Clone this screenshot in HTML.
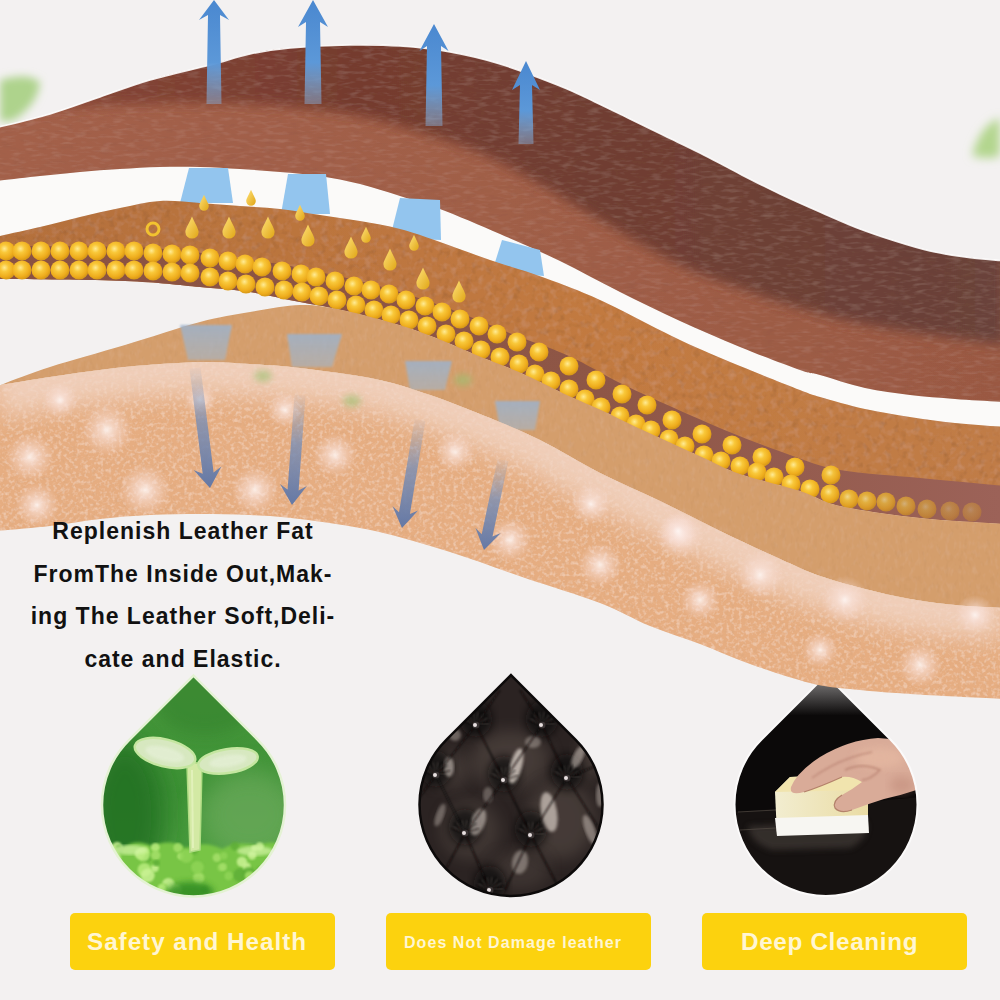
<!DOCTYPE html>
<html><head><meta charset="utf-8"><style>
html,body{margin:0;padding:0;width:1000px;height:1000px;overflow:hidden;background:#f3f1f1}
#root{position:relative;width:1000px;height:1000px}
.txt{position:absolute;left:0;width:366px;text-align:center;font-family:"Liberation Sans",sans-serif;font-weight:bold;font-size:23px;letter-spacing:1px;color:#111;line-height:42.5px;top:510px}
.drop{position:absolute;width:182px;height:182px;transform:rotate(45deg);border-radius:0 50% 50% 50%;overflow:hidden}
.btn{position:absolute;top:913px;height:57px;background:#fcd20e;border-radius:5px}
.bt{position:absolute;font-family:"Liberation Sans",sans-serif;font-weight:bold;color:#fff6d2;white-space:nowrap;line-height:1}
</style></head><body><div id="root">
<svg width="1000" height="1000" viewBox="0 0 1000 1000" style="position:absolute;left:0;top:0">
<defs>
<radialGradient id="bead" cx="0.42" cy="0.38" r="0.6">
  <stop offset="0" stop-color="#ffeb94"/><stop offset="0.35" stop-color="#f9c83a"/><stop offset="0.8" stop-color="#eeac1c"/><stop offset="1" stop-color="#d99a18"/>
</radialGradient>
<linearGradient id="gdrop" x1="0" y1="0" x2="1" y2="1">
  <stop offset="0" stop-color="#ffe27a"/><stop offset="1" stop-color="#e0a514"/>
</linearGradient>
<linearGradient id="upg" x1="0" y1="0" x2="0" y2="1">
  <stop offset="0" stop-color="#4a88d0"/><stop offset="0.6" stop-color="#5c98d8"/><stop offset="1" stop-color="#8ab4e0" stop-opacity="0.45"/>
</linearGradient>
<linearGradient id="dng" x1="0" y1="0" x2="0" y2="1">
  <stop offset="0" stop-color="#8aa0c0" stop-opacity="0.05"/><stop offset="0.45" stop-color="#7a8eb4" stop-opacity="0.8"/><stop offset="1" stop-color="#6478a5"/>
</linearGradient>
<radialGradient id="spark">
  <stop offset="0" stop-color="#fff8f6" stop-opacity="0.95"/><stop offset="0.3" stop-color="#fbe6e0" stop-opacity="0.7"/><stop offset="1" stop-color="#f8dcd4" stop-opacity="0"/>
</radialGradient>
<linearGradient id="ggrad" x1="0" y1="0" x2="0" y2="1"><stop offset="0" stop-color="#48983c"/><stop offset="0.5" stop-color="#3e9236"/><stop offset="1" stop-color="#52a444"/></linearGradient>
<linearGradient id="sgtop" x1="0" y1="0" x2="0" y2="1"><stop offset="0" stop-color="#9a9898"/><stop offset="1" stop-color="#0d0b0b"/></linearGradient>
<linearGradient id="darkg" x1="0" y1="0" x2="1000" y2="0" gradientUnits="userSpaceOnUse"><stop offset="0" stop-color="#8a4838"/><stop offset="0.35" stop-color="#753b2e"/><stop offset="0.65" stop-color="#6f3e33"/><stop offset="1" stop-color="#6a423a"/></linearGradient>
<linearGradient id="lightg" x1="0" y1="0" x2="1000" y2="0" gradientUnits="userSpaceOnUse"><stop offset="0" stop-color="#a36049"/><stop offset="0.5" stop-color="#a05e47"/><stop offset="1" stop-color="#9a5943"/></linearGradient>
<filter id="blur6" x="-20%" y="-20%" width="140%" height="140%"><feGaussianBlur stdDeviation="6"/></filter>
<filter id="blur12" x="-50%" y="-50%" width="200%" height="200%"><feGaussianBlur stdDeviation="12"/></filter>
<filter id="blur1"><feGaussianBlur stdDeviation="0.8"/></filter>
<filter id="tex" x="0" y="0" width="1000" height="1000" filterUnits="userSpaceOnUse">
  <feTurbulence type="fractalNoise" baseFrequency="0.18" numOctaves="2" seed="7" result="n"/>
  <feColorMatrix in="n" type="matrix" values="0 0 0 0 1  0 0 0 0 0.92  0 0 0 0 0.85  2.6 0 0 0 -1.25" result="sp"/>
  <feComposite in="sp" in2="SourceAlpha" operator="in" result="sp2"/>
  <feComponentTransfer in="sp2" result="sp3"><feFuncA type="linear" slope="0.22"/></feComponentTransfer>
  <feColorMatrix in="n" type="matrix" values="0 0 0 0 0  0 0 0 0 0  0 0 0 0 0  0 -2.6 0 0 1.25" result="dk"/>
  <feComposite in="dk" in2="SourceAlpha" operator="in" result="dk2"/>
  <feComponentTransfer in="dk2" result="dk3"><feFuncA type="linear" slope="0.12"/></feComponentTransfer>
  <feMerge><feMergeNode in="SourceGraphic"/><feMergeNode in="sp3"/><feMergeNode in="dk3"/></feMerge>
</filter>
<filter id="texd" x="0" y="0" width="1000" height="1000" filterUnits="userSpaceOnUse">
  <feTurbulence type="fractalNoise" baseFrequency="0.22 0.12" numOctaves="2" seed="7" result="n"/>
  <feColorMatrix in="n" type="matrix" values="0 0 0 0 1  0 0 0 0 0.92  0 0 0 0 0.85  2.6 0 0 0 -1.25" result="sp"/>
  <feComposite in="sp" in2="SourceAlpha" operator="in" result="sp2"/>
  <feComponentTransfer in="sp2" result="sp3"><feFuncA type="linear" slope="0.06"/></feComponentTransfer>
  <feColorMatrix in="n" type="matrix" values="0 0 0 0 0  0 0 0 0 0  0 0 0 0 0  0 -2.6 0 0 1.25" result="dk"/>
  <feComposite in="dk" in2="SourceAlpha" operator="in" result="dk2"/>
  <feComponentTransfer in="dk2" result="dk3"><feFuncA type="linear" slope="0.06"/></feComponentTransfer>
  <feMerge><feMergeNode in="SourceGraphic"/><feMergeNode in="sp3"/><feMergeNode in="dk3"/></feMerge>
</filter>
<filter id="texl" x="0" y="0" width="1000" height="1000" filterUnits="userSpaceOnUse">
  <feTurbulence type="fractalNoise" baseFrequency="0.08 0.28" numOctaves="2" seed="7" result="n"/>
  <feColorMatrix in="n" type="matrix" values="0 0 0 0 0.85  0 0 0 0 0.6  0 0 0 0 0.5  2.6 0 0 0 -1.25" result="sp"/>
  <feComposite in="sp" in2="SourceAlpha" operator="in" result="sp2"/>
  <feComponentTransfer in="sp2" result="sp3"><feFuncA type="linear" slope="0.10"/></feComponentTransfer>
  <feColorMatrix in="n" type="matrix" values="0 0 0 0 0.2  0 0 0 0 0.08  0 0 0 0 0.05  0 -2.6 0 0 1.25" result="dk"/>
  <feComposite in="dk" in2="SourceAlpha" operator="in" result="dk2"/>
  <feComponentTransfer in="dk2" result="dk3"><feFuncA type="linear" slope="0.16"/></feComponentTransfer>
  <feMerge><feMergeNode in="SourceGraphic"/><feMergeNode in="sp3"/><feMergeNode in="dk3"/></feMerge>
</filter>
<filter id="textan" x="0" y="0" width="1000" height="1000" filterUnits="userSpaceOnUse">
  <feTurbulence type="fractalNoise" baseFrequency="0.14" numOctaves="2" seed="7" result="n"/>
  <feColorMatrix in="n" type="matrix" values="0 0 0 0 1  0 0 0 0 0.92  0 0 0 0 0.85  2.6 0 0 0 -1.25" result="sp"/>
  <feComposite in="sp" in2="SourceAlpha" operator="in" result="sp2"/>
  <feComponentTransfer in="sp2" result="sp3"><feFuncA type="linear" slope="0.08"/></feComponentTransfer>
  <feColorMatrix in="n" type="matrix" values="0 0 0 0 0  0 0 0 0 0  0 0 0 0 0  0 -2.6 0 0 1.25" result="dk"/>
  <feComposite in="dk" in2="SourceAlpha" operator="in" result="dk2"/>
  <feComponentTransfer in="dk2" result="dk3"><feFuncA type="linear" slope="0.2"/></feComponentTransfer>
  <feMerge><feMergeNode in="SourceGraphic"/><feMergeNode in="sp3"/><feMergeNode in="dk3"/></feMerge>
</filter>
<filter id="tex2" x="0" y="0" width="1000" height="1000" filterUnits="userSpaceOnUse">
  <feTurbulence type="fractalNoise" baseFrequency="0.26" numOctaves="2" seed="11" result="n"/>
  <feColorMatrix in="n" type="matrix" values="0 0 0 0 1  0 0 0 0 0.88  0 0 0 0 0.78  3.2 0 0 0 -1.5" result="sp"/>
  <feComposite in="sp" in2="SourceAlpha" operator="in" result="sp2"/>
  <feComponentTransfer in="sp2" result="sp3"><feFuncA type="linear" slope="0.32"/></feComponentTransfer>
  <feColorMatrix in="n" type="matrix" values="0 0 0 0 0.6  0 0 0 0 0.35  0 0 0 0 0.2  0 3 0 0 -1.5" result="dk"/>
  <feComposite in="dk" in2="SourceAlpha" operator="in" result="dk2"/>
  <feComponentTransfer in="dk2" result="dk3"><feFuncA type="linear" slope="0.25"/></feComponentTransfer>
  <feMerge><feMergeNode in="SourceGraphic"/><feMergeNode in="sp3"/><feMergeNode in="dk3"/></feMerge>
</filter>
<filter id="blur3" x="-50%" y="-50%" width="200%" height="200%"><feGaussianBlur stdDeviation="3"/></filter>
<filter id="blur5" x="-50%" y="-50%" width="200%" height="200%"><feGaussianBlur stdDeviation="5"/></filter>
<linearGradient id="tang" x1="0" y1="0" x2="1000" y2="0" gradientUnits="userSpaceOnUse"><stop offset="0" stop-color="#b4703b"/><stop offset="0.6" stop-color="#c27a41"/><stop offset="1" stop-color="#c07c46"/></linearGradient>
<linearGradient id="trapg" x1="0" y1="0" x2="0" y2="1"><stop offset="0" stop-color="#9cb2cc" stop-opacity="0.85"/><stop offset="1" stop-color="#a4b6c8" stop-opacity="0.6"/></linearGradient>
<linearGradient id="spg" x1="0" y1="0" x2="1" y2="0"><stop offset="0" stop-color="#f2edd0"/><stop offset="1" stop-color="#eadca4"/></linearGradient>
<linearGradient id="stripg" x1="0" y1="0" x2="1000" y2="0" gradientUnits="userSpaceOnUse"><stop offset="0" stop-color="#8a5242"/><stop offset="0.6" stop-color="#8e5646"/><stop offset="1" stop-color="#9c6258"/></linearGradient>
<filter id="blur8" x="-20%" y="-20%" width="140%" height="140%"><feGaussianBlur stdDeviation="8"/></filter>
<filter id="blur4" x="-20%" y="-20%" width="140%" height="140%"><feGaussianBlur stdDeviation="4"/></filter>
<filter id="blur2"><feGaussianBlur stdDeviation="1.5"/></filter>
<clipPath id="darkclip"><path d="M-5,128 C4.2,125.7 32.5,119.2 50.0,114.0 C67.5,108.8 83.3,102.7 100.0,97.0 C116.7,91.3 131.7,85.3 150.0,80.0 C168.3,74.7 193.3,69.3 210.0,65.0 C226.7,60.7 236.7,56.8 250.0,54.0 C263.3,51.2 273.3,49.5 290.0,48.0 C306.7,46.5 331.7,45.3 350.0,45.0 C368.3,44.7 383.3,44.8 400.0,46.0 C416.7,47.2 433.3,49.0 450.0,52.0 C466.7,55.0 481.7,58.3 500.0,64.0 C518.3,69.7 544.2,79.7 560.0,86.0 C575.8,92.3 583.3,96.5 595.0,102.0 C606.7,107.5 618.3,113.3 630.0,119.0 C641.7,124.7 653.3,130.3 665.0,136.0 C676.7,141.7 687.5,146.7 700.0,153.0 C712.5,159.3 726.7,167.2 740.0,174.0 C753.3,180.8 766.7,187.7 780.0,194.0 C793.3,200.3 806.7,206.2 820.0,212.0 C833.3,217.8 847.5,224.2 860.0,229.0 C872.5,233.8 883.3,237.3 895.0,241.0 C906.7,244.7 918.3,248.3 930.0,251.0 C941.7,253.7 952.5,255.3 965.0,257.0 C977.5,258.7 998.3,260.3 1005.0,261.0 L1005,402 C996.7,401.5 970.8,400.2 955.0,399.0 C939.2,397.8 925.0,396.8 910.0,395.0 C895.0,393.2 880.0,391.3 865.0,388.0 C850.0,384.7 830.8,378.0 820.0,375.0 C809.2,372.0 813.3,374.7 800.0,370.0 C786.7,365.3 760.0,355.2 740.0,347.0 C720.0,338.8 700.0,330.2 680.0,321.0 C660.0,311.8 640.0,302.0 620.0,292.0 C600.0,282.0 580.0,270.7 560.0,261.0 C540.0,251.3 520.0,242.7 500.0,234.0 C480.0,225.3 456.7,215.3 440.0,209.0 C423.3,202.7 413.3,200.2 400.0,196.0 C386.7,191.8 373.3,187.3 360.0,184.0 C346.7,180.7 333.3,178.0 320.0,176.0 C306.7,174.0 293.3,173.2 280.0,172.0 C266.7,170.8 253.3,169.8 240.0,169.0 C226.7,168.2 213.3,167.3 200.0,167.0 C186.7,166.7 173.3,166.7 160.0,167.0 C146.7,167.3 133.3,168.2 120.0,169.0 C106.7,169.8 93.3,170.8 80.0,172.0 C66.7,173.2 54.2,174.5 40.0,176.0 C25.8,177.5 2.5,180.2 -5.0,181.0 Z"/></clipPath>
</defs>
<rect width="1000" height="1000" fill="#f3f1f1"/>
<path d="M0,80 Q28,72 40,82 Q38,104 14,120 Q4,122 0,121 Z" fill="#aed38c" filter="url(#blur4)"/><path d="M1000,118 Q980,125 972,156 Q990,160 1000,156 Z" fill="#b3d68e" filter="url(#blur5)"/><clipPath id="cg"><path d="M193.5,675.6 L258.2,740.3 A91.5,91.5 0 1 1 128.8,740.3 Z"/></clipPath>
<g clip-path="url(#cg)">
<rect x="90" y="670" width="210" height="240" fill="url(#ggrad)"/>
<ellipse cx="125" cy="815" rx="40" ry="75" fill="#226f20" filter="url(#blur12)" opacity="0.85"/>
<ellipse cx="250" cy="815" rx="50" ry="45" fill="#6caa5c" filter="url(#blur12)" opacity="0.75"/>
<ellipse cx="205" cy="700" rx="50" ry="35" fill="#327f2c" filter="url(#blur8)" opacity="0.5"/>
<path d="M100,850 Q110,842 122,848 Q136,838 152,846 Q170,838 186,848 Q205,840 222,849 Q240,840 258,846 Q272,838 290,848 L290,910 L95,910 Z" fill="#78c545" filter="url(#blur2)"/>
<circle cx="144.8" cy="851.1" r="4.6" fill="#a6e06a" opacity="0.85" filter="url(#blur1)"/>
<circle cx="117.1" cy="847.0" r="5.2" fill="#caf294" opacity="0.85" filter="url(#blur1)"/>
<circle cx="252.1" cy="883.5" r="3.9" fill="#5fae38" opacity="0.85" filter="url(#blur1)"/>
<circle cx="168.4" cy="884.2" r="6.3" fill="#caf294" opacity="0.85" filter="url(#blur1)"/>
<circle cx="140.7" cy="891.4" r="6.3" fill="#caf294" opacity="0.85" filter="url(#blur1)"/>
<circle cx="252.1" cy="855.5" r="4.2" fill="#caf294" opacity="0.85" filter="url(#blur1)"/>
<circle cx="116.5" cy="875.7" r="5.7" fill="#5fae38" opacity="0.85" filter="url(#blur1)"/>
<circle cx="147.3" cy="858.1" r="4.1" fill="#5fae38" opacity="0.85" filter="url(#blur1)"/>
<circle cx="259.7" cy="846.4" r="4.2" fill="#caf294" opacity="0.85" filter="url(#blur1)"/>
<circle cx="261.1" cy="870.9" r="4.7" fill="#5fae38" opacity="0.85" filter="url(#blur1)"/>
<circle cx="154.8" cy="868.1" r="3.9" fill="#caf294" opacity="0.85" filter="url(#blur1)"/>
<circle cx="254.4" cy="848.1" r="3.2" fill="#caf294" opacity="0.85" filter="url(#blur1)"/>
<circle cx="198.6" cy="877.8" r="5.8" fill="#a6e06a" opacity="0.85" filter="url(#blur1)"/>
<circle cx="289.5" cy="855.6" r="4.7" fill="#a6e06a" opacity="0.85" filter="url(#blur1)"/>
<circle cx="220.7" cy="867.6" r="3.7" fill="#8fd457" opacity="0.85" filter="url(#blur1)"/>
<circle cx="241.9" cy="861.7" r="5.2" fill="#caf294" opacity="0.85" filter="url(#blur1)"/>
<circle cx="119.2" cy="849.0" r="3.9" fill="#5fae38" opacity="0.85" filter="url(#blur1)"/>
<circle cx="216.9" cy="857.6" r="4.3" fill="#a6e06a" opacity="0.85" filter="url(#blur1)"/>
<circle cx="155.3" cy="847.3" r="4.4" fill="#b9ec7e" opacity="0.85" filter="url(#blur1)"/>
<circle cx="270.2" cy="892.8" r="5.9" fill="#caf294" opacity="0.85" filter="url(#blur1)"/>
<circle cx="103.5" cy="860.2" r="6.9" fill="#8fd457" opacity="0.85" filter="url(#blur1)"/>
<circle cx="263.7" cy="888.6" r="5.7" fill="#b9ec7e" opacity="0.85" filter="url(#blur1)"/>
<circle cx="155.7" cy="855.4" r="4.8" fill="#a6e06a" opacity="0.85" filter="url(#blur1)"/>
<circle cx="147.5" cy="875.3" r="3.6" fill="#5fae38" opacity="0.85" filter="url(#blur1)"/>
<circle cx="101.8" cy="848.2" r="3.7" fill="#caf294" opacity="0.85" filter="url(#blur1)"/>
<circle cx="289.5" cy="874.0" r="4.8" fill="#a6e06a" opacity="0.85" filter="url(#blur1)"/>
<circle cx="180.6" cy="856.2" r="3.2" fill="#b9ec7e" opacity="0.85" filter="url(#blur1)"/>
<circle cx="240.1" cy="875.2" r="6.9" fill="#5fae38" opacity="0.85" filter="url(#blur1)"/>
<circle cx="107.8" cy="870.0" r="4.0" fill="#b9ec7e" opacity="0.85" filter="url(#blur1)"/>
<circle cx="123.2" cy="871.9" r="6.1" fill="#8fd457" opacity="0.85" filter="url(#blur1)"/>
<circle cx="223.8" cy="855.8" r="3.8" fill="#8fd457" opacity="0.85" filter="url(#blur1)"/>
<circle cx="178.0" cy="847.8" r="4.7" fill="#a6e06a" opacity="0.85" filter="url(#blur1)"/>
<circle cx="223.0" cy="867.0" r="3.9" fill="#a6e06a" opacity="0.85" filter="url(#blur1)"/>
<circle cx="106.0" cy="858.5" r="4.0" fill="#a6e06a" opacity="0.85" filter="url(#blur1)"/>
<circle cx="246.7" cy="866.4" r="4.0" fill="#caf294" opacity="0.85" filter="url(#blur1)"/>
<circle cx="109.7" cy="891.5" r="5.3" fill="#5fae38" opacity="0.85" filter="url(#blur1)"/>
<circle cx="176.6" cy="890.1" r="5.6" fill="#b9ec7e" opacity="0.85" filter="url(#blur1)"/>
<circle cx="193.9" cy="850.6" r="3.8" fill="#5fae38" opacity="0.85" filter="url(#blur1)"/>
<circle cx="271.0" cy="891.3" r="4.3" fill="#8fd457" opacity="0.85" filter="url(#blur1)"/>
<circle cx="251.9" cy="877.5" r="6.3" fill="#5fae38" opacity="0.85" filter="url(#blur1)"/>
<circle cx="140.9" cy="885.3" r="6.2" fill="#caf294" opacity="0.85" filter="url(#blur1)"/>
<circle cx="275.3" cy="892.9" r="3.3" fill="#caf294" opacity="0.85" filter="url(#blur1)"/>
<circle cx="282.7" cy="878.7" r="3.2" fill="#5fae38" opacity="0.85" filter="url(#blur1)"/>
<circle cx="124.3" cy="893.5" r="5.7" fill="#b9ec7e" opacity="0.85" filter="url(#blur1)"/>
<circle cx="265.3" cy="879.7" r="4.9" fill="#8fd457" opacity="0.85" filter="url(#blur1)"/>
<circle cx="241.8" cy="891.4" r="3.9" fill="#b9ec7e" opacity="0.85" filter="url(#blur1)"/>
<circle cx="140.1" cy="853.7" r="5.4" fill="#caf294" opacity="0.85" filter="url(#blur1)"/>
<circle cx="122.0" cy="885.7" r="6.1" fill="#a6e06a" opacity="0.85" filter="url(#blur1)"/>
<circle cx="204.6" cy="889.1" r="3.8" fill="#5fae38" opacity="0.85" filter="url(#blur1)"/>
<circle cx="162.8" cy="889.7" r="6.1" fill="#8fd457" opacity="0.85" filter="url(#blur1)"/>
<circle cx="273.9" cy="867.5" r="3.3" fill="#5fae38" opacity="0.85" filter="url(#blur1)"/>
<circle cx="121.5" cy="873.5" r="4.0" fill="#a6e06a" opacity="0.85" filter="url(#blur1)"/>
<circle cx="107.9" cy="849.9" r="6.5" fill="#b9ec7e" opacity="0.85" filter="url(#blur1)"/>
<circle cx="156.4" cy="863.0" r="3.3" fill="#5fae38" opacity="0.85" filter="url(#blur1)"/>
<circle cx="186.2" cy="856.1" r="6.9" fill="#8fd457" opacity="0.85" filter="url(#blur1)"/>
<circle cx="144.4" cy="869.8" r="6.9" fill="#b9ec7e" opacity="0.85" filter="url(#blur1)"/>
<circle cx="114.7" cy="890.9" r="6.2" fill="#caf294" opacity="0.85" filter="url(#blur1)"/>
<circle cx="197.4" cy="867.3" r="6.4" fill="#8fd457" opacity="0.85" filter="url(#blur1)"/>
<circle cx="112.7" cy="889.2" r="3.8" fill="#caf294" opacity="0.85" filter="url(#blur1)"/>
<circle cx="276.7" cy="869.5" r="3.5" fill="#5fae38" opacity="0.85" filter="url(#blur1)"/>
<circle cx="131.8" cy="888.8" r="3.7" fill="#a6e06a" opacity="0.85" filter="url(#blur1)"/>
<circle cx="162.0" cy="888.1" r="4.0" fill="#b9ec7e" opacity="0.85" filter="url(#blur1)"/>
<circle cx="235.0" cy="846.3" r="4.2" fill="#5fae38" opacity="0.85" filter="url(#blur1)"/>
<circle cx="121.1" cy="884.5" r="5.4" fill="#5fae38" opacity="0.85" filter="url(#blur1)"/>
<circle cx="114.4" cy="858.0" r="6.4" fill="#caf294" opacity="0.85" filter="url(#blur1)"/>
<circle cx="143.5" cy="854.8" r="6.5" fill="#b9ec7e" opacity="0.85" filter="url(#blur1)"/>
<circle cx="228.6" cy="875.9" r="4.3" fill="#8fd457" opacity="0.85" filter="url(#blur1)"/>
<circle cx="248.7" cy="873.8" r="6.7" fill="#5fae38" opacity="0.85" filter="url(#blur1)"/>
<circle cx="249.5" cy="876.0" r="4.8" fill="#a6e06a" opacity="0.85" filter="url(#blur1)"/>
<circle cx="147.8" cy="875.3" r="6.9" fill="#caf294" opacity="0.85" filter="url(#blur1)"/>
<ellipse cx="190" cy="892" rx="24" ry="10" fill="#2e8a22" opacity="0.85" filter="url(#blur3)"/>
<ellipse cx="130" cy="850" rx="18" ry="5" fill="#d4f5a6" opacity="0.7" filter="url(#blur2)"/>
<ellipse cx="255" cy="851" rx="18" ry="5" fill="#d4f5a6" opacity="0.7" filter="url(#blur2)"/>
<path d="M187,766 Q194,759 202,766 L200,850 L190,852 Z" fill="#d3e9a4" stroke="#b0dc84" stroke-width="1.5"/>
<path d="M192,770 L193,848" stroke="#e8f4c4" stroke-width="2" opacity="0.7"/>
<ellipse cx="165" cy="753" rx="31" ry="13.5" transform="rotate(14 165 753)" fill="#d7e8c0" stroke="#c5e6a0" stroke-width="2.5"/>
<ellipse cx="165" cy="754" rx="20" ry="7" transform="rotate(14 165 753)" fill="#e6f0d8" opacity="0.7" filter="url(#blur2)"/>
<ellipse cx="228" cy="761" rx="30" ry="12" transform="rotate(-9 228 761)" fill="#d7e8c0" stroke="#c5e6a0" stroke-width="2.5"/>
<ellipse cx="228" cy="761" rx="19" ry="6" transform="rotate(-9 228 761)" fill="#e6f0d8" opacity="0.7" filter="url(#blur2)"/>
</g>
<path d="M193.5,675.6 L258.2,740.3 A91.5,91.5 0 1 1 128.8,740.3 Z" fill="none" stroke="#e4f2d4" stroke-width="2.5"/>
<clipPath id="cb"><path d="M511,675.1 L575.7,739.8 A91.5,91.5 0 1 1 446.3,739.8 Z"/></clipPath>
<g clip-path="url(#cb)">
<rect x="400" y="670" width="220" height="240" fill="#2b2322"/>
<ellipse cx="510" cy="760" rx="40" ry="30" fill="#74685f" opacity="0.35" filter="url(#blur8)"/>
<ellipse cx="560" cy="820" rx="35" ry="40" fill="#74685f" opacity="0.35" filter="url(#blur8)"/>
<ellipse cx="470" cy="830" rx="30" ry="30" fill="#74685f" opacity="0.3" filter="url(#blur8)"/>
<ellipse cx="450" cy="770" rx="20" ry="20" fill="#74685f" opacity="0.3" filter="url(#blur8)"/>
<ellipse cx="520" cy="870" rx="30" ry="20" fill="#74685f" opacity="0.25" filter="url(#blur8)"/>
<ellipse cx="590" cy="760" rx="15" ry="20" fill="#74685f" opacity="0.3" filter="url(#blur8)"/>
<ellipse cx="476" cy="719" rx="16" ry="18" fill="#0e0b0b" opacity="0.7" filter="url(#blur4)"/>
<ellipse cx="542" cy="719" rx="16" ry="18" fill="#0e0b0b" opacity="0.7" filter="url(#blur4)"/>
<ellipse cx="436" cy="769" rx="16" ry="18" fill="#0e0b0b" opacity="0.7" filter="url(#blur4)"/>
<ellipse cx="504" cy="774" rx="16" ry="18" fill="#0e0b0b" opacity="0.7" filter="url(#blur4)"/>
<ellipse cx="567" cy="772" rx="16" ry="18" fill="#0e0b0b" opacity="0.7" filter="url(#blur4)"/>
<ellipse cx="465" cy="827" rx="16" ry="18" fill="#0e0b0b" opacity="0.7" filter="url(#blur4)"/>
<ellipse cx="531" cy="829" rx="16" ry="18" fill="#0e0b0b" opacity="0.7" filter="url(#blur4)"/>
<ellipse cx="490" cy="884" rx="16" ry="18" fill="#0e0b0b" opacity="0.7" filter="url(#blur4)"/>
<ellipse cx="516" cy="766" rx="6" ry="18" transform="rotate(15 516 766)" fill="#cfc4bc" opacity="0.85" filter="url(#blur2)"/>
<ellipse cx="549" cy="812" rx="8" ry="20" transform="rotate(-10 549 812)" fill="#cfc4bc" opacity="0.75" filter="url(#blur2)"/>
<ellipse cx="478" cy="822" rx="7" ry="14" transform="rotate(20 478 822)" fill="#cfc4bc" opacity="0.6" filter="url(#blur2)"/>
<ellipse cx="449" cy="767" rx="5" ry="10" transform="rotate(0 449 767)" fill="#cfc4bc" opacity="0.6" filter="url(#blur2)"/>
<ellipse cx="578" cy="757" rx="5" ry="12" transform="rotate(25 578 757)" fill="#cfc4bc" opacity="0.55" filter="url(#blur2)"/>
<ellipse cx="533" cy="742" rx="8" ry="6" transform="rotate(0 533 742)" fill="#cfc4bc" opacity="0.4" filter="url(#blur2)"/>
<ellipse cx="590" cy="830" rx="5" ry="16" transform="rotate(-20 590 830)" fill="#cfc4bc" opacity="0.5" filter="url(#blur2)"/>
<ellipse cx="520" cy="862" rx="8" ry="12" transform="rotate(10 520 862)" fill="#cfc4bc" opacity="0.45" filter="url(#blur2)"/>
<ellipse cx="440" cy="815" rx="4" ry="12" transform="rotate(20 440 815)" fill="#cfc4bc" opacity="0.4" filter="url(#blur2)"/>
<ellipse cx="455" cy="735" rx="6" ry="6" transform="rotate(0 455 735)" fill="#cfc4bc" opacity="0.4" filter="url(#blur2)"/>
<ellipse cx="600" cy="795" rx="4" ry="12" transform="rotate(0 600 795)" fill="#cfc4bc" opacity="0.45" filter="url(#blur2)"/>
<ellipse cx="488" cy="795" rx="5" ry="8" transform="rotate(0 488 795)" fill="#cfc4bc" opacity="0.35" filter="url(#blur2)"/>
<path d="M476,725 L436,775 M542,725 L504,780 L465,833 L440,880 M567,778 L531,835 L505,890 M476,725 L504,780 L531,835 L560,890 M436,775 L465,833 L490,890 M542,725 L567,778 L600,830 M476,725 L500,690 M542,725 L520,690 M436,775 L410,810 M567,778 L610,760" stroke="#0a0808" stroke-width="2" fill="none" opacity="0.6" filter="url(#blur1)"/>
<path d="M476,725 L461.7,720.4" stroke="#0a0808" stroke-width="1.6" opacity="0.55" filter="url(#blur1)"/>
<path d="M473.4,723.6 L464.5,718.9" stroke="#8a807a" stroke-width="1.2" opacity="0.35" filter="url(#blur1)"/>
<path d="M476,725 L464.8,715.0" stroke="#0a0808" stroke-width="1.6" opacity="0.55" filter="url(#blur1)"/>
<path d="M474.2,722.6 L468.0,714.7" stroke="#8a807a" stroke-width="1.2" opacity="0.35" filter="url(#blur1)"/>
<path d="M476,725 L469.9,711.3" stroke="#0a0808" stroke-width="1.6" opacity="0.55" filter="url(#blur1)"/>
<path d="M475.3,722.1 L472.9,712.4" stroke="#8a807a" stroke-width="1.2" opacity="0.35" filter="url(#blur1)"/>
<path d="M476,725 L476.0,710.0" stroke="#0a0808" stroke-width="1.6" opacity="0.55" filter="url(#blur1)"/>
<path d="M476.5,722.0 L478.3,712.2" stroke="#8a807a" stroke-width="1.2" opacity="0.35" filter="url(#blur1)"/>
<path d="M476,725 L482.1,711.3" stroke="#0a0808" stroke-width="1.6" opacity="0.55" filter="url(#blur1)"/>
<path d="M477.7,722.5 L483.3,714.3" stroke="#8a807a" stroke-width="1.2" opacity="0.35" filter="url(#blur1)"/>
<path d="M476,725 L487.2,715.0" stroke="#0a0808" stroke-width="1.6" opacity="0.55" filter="url(#blur1)"/>
<path d="M478.6,723.4 L487.1,718.2" stroke="#8a807a" stroke-width="1.2" opacity="0.35" filter="url(#blur1)"/>
<path d="M476,725 L490.3,720.4" stroke="#0a0808" stroke-width="1.6" opacity="0.55" filter="url(#blur1)"/>
<path d="M479.0,724.6 L488.9,723.3" stroke="#8a807a" stroke-width="1.2" opacity="0.35" filter="url(#blur1)"/>
<circle cx="476" cy="725" r="3.5" fill="#3a3434"/><circle cx="475" cy="725" r="2" fill="#e8e0e0"/>
<path d="M542,725 L527.7,720.4" stroke="#0a0808" stroke-width="1.6" opacity="0.55" filter="url(#blur1)"/>
<path d="M539.4,723.6 L530.5,718.9" stroke="#8a807a" stroke-width="1.2" opacity="0.35" filter="url(#blur1)"/>
<path d="M542,725 L530.8,715.0" stroke="#0a0808" stroke-width="1.6" opacity="0.55" filter="url(#blur1)"/>
<path d="M540.2,722.6 L534.0,714.7" stroke="#8a807a" stroke-width="1.2" opacity="0.35" filter="url(#blur1)"/>
<path d="M542,725 L535.9,711.3" stroke="#0a0808" stroke-width="1.6" opacity="0.55" filter="url(#blur1)"/>
<path d="M541.3,722.1 L538.9,712.4" stroke="#8a807a" stroke-width="1.2" opacity="0.35" filter="url(#blur1)"/>
<path d="M542,725 L542.0,710.0" stroke="#0a0808" stroke-width="1.6" opacity="0.55" filter="url(#blur1)"/>
<path d="M542.5,722.0 L544.3,712.2" stroke="#8a807a" stroke-width="1.2" opacity="0.35" filter="url(#blur1)"/>
<path d="M542,725 L548.1,711.3" stroke="#0a0808" stroke-width="1.6" opacity="0.55" filter="url(#blur1)"/>
<path d="M543.7,722.5 L549.3,714.3" stroke="#8a807a" stroke-width="1.2" opacity="0.35" filter="url(#blur1)"/>
<path d="M542,725 L553.2,715.0" stroke="#0a0808" stroke-width="1.6" opacity="0.55" filter="url(#blur1)"/>
<path d="M544.6,723.4 L553.1,718.2" stroke="#8a807a" stroke-width="1.2" opacity="0.35" filter="url(#blur1)"/>
<path d="M542,725 L556.3,720.4" stroke="#0a0808" stroke-width="1.6" opacity="0.55" filter="url(#blur1)"/>
<path d="M545.0,724.6 L554.9,723.3" stroke="#8a807a" stroke-width="1.2" opacity="0.35" filter="url(#blur1)"/>
<circle cx="542" cy="725" r="3.5" fill="#3a3434"/><circle cx="541" cy="725" r="2" fill="#e8e0e0"/>
<path d="M436,775 L421.7,770.4" stroke="#0a0808" stroke-width="1.6" opacity="0.55" filter="url(#blur1)"/>
<path d="M433.4,773.6 L424.5,768.9" stroke="#8a807a" stroke-width="1.2" opacity="0.35" filter="url(#blur1)"/>
<path d="M436,775 L424.8,765.0" stroke="#0a0808" stroke-width="1.6" opacity="0.55" filter="url(#blur1)"/>
<path d="M434.2,772.6 L428.0,764.7" stroke="#8a807a" stroke-width="1.2" opacity="0.35" filter="url(#blur1)"/>
<path d="M436,775 L429.9,761.3" stroke="#0a0808" stroke-width="1.6" opacity="0.55" filter="url(#blur1)"/>
<path d="M435.3,772.1 L432.9,762.4" stroke="#8a807a" stroke-width="1.2" opacity="0.35" filter="url(#blur1)"/>
<path d="M436,775 L436.0,760.0" stroke="#0a0808" stroke-width="1.6" opacity="0.55" filter="url(#blur1)"/>
<path d="M436.5,772.0 L438.3,762.2" stroke="#8a807a" stroke-width="1.2" opacity="0.35" filter="url(#blur1)"/>
<path d="M436,775 L442.1,761.3" stroke="#0a0808" stroke-width="1.6" opacity="0.55" filter="url(#blur1)"/>
<path d="M437.7,772.5 L443.3,764.3" stroke="#8a807a" stroke-width="1.2" opacity="0.35" filter="url(#blur1)"/>
<path d="M436,775 L447.2,765.0" stroke="#0a0808" stroke-width="1.6" opacity="0.55" filter="url(#blur1)"/>
<path d="M438.6,773.4 L447.1,768.2" stroke="#8a807a" stroke-width="1.2" opacity="0.35" filter="url(#blur1)"/>
<path d="M436,775 L450.3,770.4" stroke="#0a0808" stroke-width="1.6" opacity="0.55" filter="url(#blur1)"/>
<path d="M439.0,774.6 L448.9,773.3" stroke="#8a807a" stroke-width="1.2" opacity="0.35" filter="url(#blur1)"/>
<circle cx="436" cy="775" r="3.5" fill="#3a3434"/><circle cx="435" cy="775" r="2" fill="#e8e0e0"/>
<path d="M504,780 L489.7,775.4" stroke="#0a0808" stroke-width="1.6" opacity="0.55" filter="url(#blur1)"/>
<path d="M501.4,778.6 L492.5,773.9" stroke="#8a807a" stroke-width="1.2" opacity="0.35" filter="url(#blur1)"/>
<path d="M504,780 L492.8,770.0" stroke="#0a0808" stroke-width="1.6" opacity="0.55" filter="url(#blur1)"/>
<path d="M502.2,777.6 L496.0,769.7" stroke="#8a807a" stroke-width="1.2" opacity="0.35" filter="url(#blur1)"/>
<path d="M504,780 L497.9,766.3" stroke="#0a0808" stroke-width="1.6" opacity="0.55" filter="url(#blur1)"/>
<path d="M503.3,777.1 L500.9,767.4" stroke="#8a807a" stroke-width="1.2" opacity="0.35" filter="url(#blur1)"/>
<path d="M504,780 L504.0,765.0" stroke="#0a0808" stroke-width="1.6" opacity="0.55" filter="url(#blur1)"/>
<path d="M504.5,777.0 L506.3,767.2" stroke="#8a807a" stroke-width="1.2" opacity="0.35" filter="url(#blur1)"/>
<path d="M504,780 L510.1,766.3" stroke="#0a0808" stroke-width="1.6" opacity="0.55" filter="url(#blur1)"/>
<path d="M505.7,777.5 L511.3,769.3" stroke="#8a807a" stroke-width="1.2" opacity="0.35" filter="url(#blur1)"/>
<path d="M504,780 L515.2,770.0" stroke="#0a0808" stroke-width="1.6" opacity="0.55" filter="url(#blur1)"/>
<path d="M506.6,778.4 L515.1,773.2" stroke="#8a807a" stroke-width="1.2" opacity="0.35" filter="url(#blur1)"/>
<path d="M504,780 L518.3,775.4" stroke="#0a0808" stroke-width="1.6" opacity="0.55" filter="url(#blur1)"/>
<path d="M507.0,779.6 L516.9,778.3" stroke="#8a807a" stroke-width="1.2" opacity="0.35" filter="url(#blur1)"/>
<circle cx="504" cy="780" r="3.5" fill="#3a3434"/><circle cx="503" cy="780" r="2" fill="#e8e0e0"/>
<path d="M567,778 L552.7,773.4" stroke="#0a0808" stroke-width="1.6" opacity="0.55" filter="url(#blur1)"/>
<path d="M564.4,776.6 L555.5,771.9" stroke="#8a807a" stroke-width="1.2" opacity="0.35" filter="url(#blur1)"/>
<path d="M567,778 L555.8,768.0" stroke="#0a0808" stroke-width="1.6" opacity="0.55" filter="url(#blur1)"/>
<path d="M565.2,775.6 L559.0,767.7" stroke="#8a807a" stroke-width="1.2" opacity="0.35" filter="url(#blur1)"/>
<path d="M567,778 L560.9,764.3" stroke="#0a0808" stroke-width="1.6" opacity="0.55" filter="url(#blur1)"/>
<path d="M566.3,775.1 L563.9,765.4" stroke="#8a807a" stroke-width="1.2" opacity="0.35" filter="url(#blur1)"/>
<path d="M567,778 L567.0,763.0" stroke="#0a0808" stroke-width="1.6" opacity="0.55" filter="url(#blur1)"/>
<path d="M567.5,775.0 L569.3,765.2" stroke="#8a807a" stroke-width="1.2" opacity="0.35" filter="url(#blur1)"/>
<path d="M567,778 L573.1,764.3" stroke="#0a0808" stroke-width="1.6" opacity="0.55" filter="url(#blur1)"/>
<path d="M568.7,775.5 L574.3,767.3" stroke="#8a807a" stroke-width="1.2" opacity="0.35" filter="url(#blur1)"/>
<path d="M567,778 L578.2,768.0" stroke="#0a0808" stroke-width="1.6" opacity="0.55" filter="url(#blur1)"/>
<path d="M569.6,776.4 L578.1,771.2" stroke="#8a807a" stroke-width="1.2" opacity="0.35" filter="url(#blur1)"/>
<path d="M567,778 L581.3,773.4" stroke="#0a0808" stroke-width="1.6" opacity="0.55" filter="url(#blur1)"/>
<path d="M570.0,777.6 L579.9,776.3" stroke="#8a807a" stroke-width="1.2" opacity="0.35" filter="url(#blur1)"/>
<circle cx="567" cy="778" r="3.5" fill="#3a3434"/><circle cx="566" cy="778" r="2" fill="#e8e0e0"/>
<path d="M465,833 L450.7,828.4" stroke="#0a0808" stroke-width="1.6" opacity="0.55" filter="url(#blur1)"/>
<path d="M462.4,831.6 L453.5,826.9" stroke="#8a807a" stroke-width="1.2" opacity="0.35" filter="url(#blur1)"/>
<path d="M465,833 L453.8,823.0" stroke="#0a0808" stroke-width="1.6" opacity="0.55" filter="url(#blur1)"/>
<path d="M463.2,830.6 L457.0,822.7" stroke="#8a807a" stroke-width="1.2" opacity="0.35" filter="url(#blur1)"/>
<path d="M465,833 L458.9,819.3" stroke="#0a0808" stroke-width="1.6" opacity="0.55" filter="url(#blur1)"/>
<path d="M464.3,830.1 L461.9,820.4" stroke="#8a807a" stroke-width="1.2" opacity="0.35" filter="url(#blur1)"/>
<path d="M465,833 L465.0,818.0" stroke="#0a0808" stroke-width="1.6" opacity="0.55" filter="url(#blur1)"/>
<path d="M465.5,830.0 L467.3,820.2" stroke="#8a807a" stroke-width="1.2" opacity="0.35" filter="url(#blur1)"/>
<path d="M465,833 L471.1,819.3" stroke="#0a0808" stroke-width="1.6" opacity="0.55" filter="url(#blur1)"/>
<path d="M466.7,830.5 L472.3,822.3" stroke="#8a807a" stroke-width="1.2" opacity="0.35" filter="url(#blur1)"/>
<path d="M465,833 L476.2,823.0" stroke="#0a0808" stroke-width="1.6" opacity="0.55" filter="url(#blur1)"/>
<path d="M467.6,831.4 L476.1,826.2" stroke="#8a807a" stroke-width="1.2" opacity="0.35" filter="url(#blur1)"/>
<path d="M465,833 L479.3,828.4" stroke="#0a0808" stroke-width="1.6" opacity="0.55" filter="url(#blur1)"/>
<path d="M468.0,832.6 L477.9,831.3" stroke="#8a807a" stroke-width="1.2" opacity="0.35" filter="url(#blur1)"/>
<circle cx="465" cy="833" r="3.5" fill="#3a3434"/><circle cx="464" cy="833" r="2" fill="#e8e0e0"/>
<path d="M531,835 L516.7,830.4" stroke="#0a0808" stroke-width="1.6" opacity="0.55" filter="url(#blur1)"/>
<path d="M528.4,833.6 L519.5,828.9" stroke="#8a807a" stroke-width="1.2" opacity="0.35" filter="url(#blur1)"/>
<path d="M531,835 L519.8,825.0" stroke="#0a0808" stroke-width="1.6" opacity="0.55" filter="url(#blur1)"/>
<path d="M529.2,832.6 L523.0,824.7" stroke="#8a807a" stroke-width="1.2" opacity="0.35" filter="url(#blur1)"/>
<path d="M531,835 L524.9,821.3" stroke="#0a0808" stroke-width="1.6" opacity="0.55" filter="url(#blur1)"/>
<path d="M530.3,832.1 L527.9,822.4" stroke="#8a807a" stroke-width="1.2" opacity="0.35" filter="url(#blur1)"/>
<path d="M531,835 L531.0,820.0" stroke="#0a0808" stroke-width="1.6" opacity="0.55" filter="url(#blur1)"/>
<path d="M531.5,832.0 L533.3,822.2" stroke="#8a807a" stroke-width="1.2" opacity="0.35" filter="url(#blur1)"/>
<path d="M531,835 L537.1,821.3" stroke="#0a0808" stroke-width="1.6" opacity="0.55" filter="url(#blur1)"/>
<path d="M532.7,832.5 L538.3,824.3" stroke="#8a807a" stroke-width="1.2" opacity="0.35" filter="url(#blur1)"/>
<path d="M531,835 L542.2,825.0" stroke="#0a0808" stroke-width="1.6" opacity="0.55" filter="url(#blur1)"/>
<path d="M533.6,833.4 L542.1,828.2" stroke="#8a807a" stroke-width="1.2" opacity="0.35" filter="url(#blur1)"/>
<path d="M531,835 L545.3,830.4" stroke="#0a0808" stroke-width="1.6" opacity="0.55" filter="url(#blur1)"/>
<path d="M534.0,834.6 L543.9,833.3" stroke="#8a807a" stroke-width="1.2" opacity="0.35" filter="url(#blur1)"/>
<circle cx="531" cy="835" r="3.5" fill="#3a3434"/><circle cx="530" cy="835" r="2" fill="#e8e0e0"/>
<path d="M490,890 L475.7,885.4" stroke="#0a0808" stroke-width="1.6" opacity="0.55" filter="url(#blur1)"/>
<path d="M487.4,888.6 L478.5,883.9" stroke="#8a807a" stroke-width="1.2" opacity="0.35" filter="url(#blur1)"/>
<path d="M490,890 L478.8,880.0" stroke="#0a0808" stroke-width="1.6" opacity="0.55" filter="url(#blur1)"/>
<path d="M488.2,887.6 L482.0,879.7" stroke="#8a807a" stroke-width="1.2" opacity="0.35" filter="url(#blur1)"/>
<path d="M490,890 L483.9,876.3" stroke="#0a0808" stroke-width="1.6" opacity="0.55" filter="url(#blur1)"/>
<path d="M489.3,887.1 L486.9,877.4" stroke="#8a807a" stroke-width="1.2" opacity="0.35" filter="url(#blur1)"/>
<path d="M490,890 L490.0,875.0" stroke="#0a0808" stroke-width="1.6" opacity="0.55" filter="url(#blur1)"/>
<path d="M490.5,887.0 L492.3,877.2" stroke="#8a807a" stroke-width="1.2" opacity="0.35" filter="url(#blur1)"/>
<path d="M490,890 L496.1,876.3" stroke="#0a0808" stroke-width="1.6" opacity="0.55" filter="url(#blur1)"/>
<path d="M491.7,887.5 L497.3,879.3" stroke="#8a807a" stroke-width="1.2" opacity="0.35" filter="url(#blur1)"/>
<path d="M490,890 L501.2,880.0" stroke="#0a0808" stroke-width="1.6" opacity="0.55" filter="url(#blur1)"/>
<path d="M492.6,888.4 L501.1,883.2" stroke="#8a807a" stroke-width="1.2" opacity="0.35" filter="url(#blur1)"/>
<path d="M490,890 L504.3,885.4" stroke="#0a0808" stroke-width="1.6" opacity="0.55" filter="url(#blur1)"/>
<path d="M493.0,889.6 L502.9,888.3" stroke="#8a807a" stroke-width="1.2" opacity="0.35" filter="url(#blur1)"/>
<circle cx="490" cy="890" r="3.5" fill="#3a3434"/><circle cx="489" cy="890" r="2" fill="#e8e0e0"/>
</g>
<path d="M511,675.1 L575.7,739.8 A91.5,91.5 0 1 1 446.3,739.8 Z" fill="none" stroke="#0c0a0a" stroke-width="2.5"/>
<clipPath id="cs"><path d="M826,675.1 L890.7,739.8 A91.5,91.5 0 1 1 761.3,739.8 Z"/></clipPath>
<g clip-path="url(#cs)">
<rect x="720" y="670" width="220" height="240" fill="#0b0909"/>
<rect x="720" y="670" width="220" height="45" fill="url(#sgtop)"/>
<path d="M730,812 Q830,806 930,796 L930,910 L730,910 Z" fill="#161211"/>
<path d="M748,826 L866,822 Q870,838 850,848 L772,850 Q750,843 748,826 Z" fill="#4a423c" opacity="0.6" filter="url(#blur3)"/>
<path d="M738,812 L776,810 M740,830 L776,828" stroke="#5a524a" stroke-width="1" opacity="0.6"/>
<path d="M775,792 L790,777 L862,774 L868,790 L868,832 L777,835 Z" fill="url(#spg)"/>
<path d="M775,818 L868,815 L869,833 L777,836 Z" fill="#f7f6f2"/>
<path d="M775,792 L790,777 L862,774 L868,790 Z" fill="#f1e4ae"/>
<path d="M791,787 Q797,772 820,757 Q848,740 878,738 Q903,739 914,752 L922,788 Q902,795 884,799 Q868,804 852,810 Q840,814 835,808 Q832,801 842,795 Q853,789 862,782 Q852,776 842,777 Q820,787 804,792 Q789,796 791,787 Z" fill="#d9ab98"/>
<path d="M842,777 Q820,787 804,792" fill="none" stroke="#a8705c" stroke-width="1.2" opacity="0.8"/>
<path d="M852,810 Q840,814 835,808 Q832,801 842,795" fill="none" stroke="#a8705c" stroke-width="1.2" opacity="0.8"/>
<ellipse cx="880" cy="758" rx="25" ry="11" fill="#e8bca4" opacity="0.6" filter="url(#blur4)"/>
<path d="M812,778 Q840,758 872,752" fill="none" stroke="#b07868" stroke-width="1.5" opacity="0.6" filter="url(#blur1)"/>
<path d="M845,770 Q862,762 880,770 Q870,780 862,780" fill="none" stroke="#a86e5e" stroke-width="1.5" opacity="0.6" filter="url(#blur1)"/>
<ellipse cx="902" cy="785" rx="12" ry="9" fill="#b88070" opacity="0.4" filter="url(#blur4)"/>
</g>
<path d="M826,675.1 L890.7,739.8 A91.5,91.5 0 1 1 761.3,739.8 Z" fill="none" stroke="#fbfafa" stroke-width="2"/><path d="M-5,181 C2.5,180.2 25.8,177.5 40.0,176.0 C54.2,174.5 66.7,173.2 80.0,172.0 C93.3,170.8 106.7,169.8 120.0,169.0 C133.3,168.2 146.7,167.3 160.0,167.0 C173.3,166.7 186.7,166.7 200.0,167.0 C213.3,167.3 226.7,168.2 240.0,169.0 C253.3,169.8 266.7,170.8 280.0,172.0 C293.3,173.2 306.7,174.0 320.0,176.0 C333.3,178.0 346.7,180.7 360.0,184.0 C373.3,187.3 386.7,191.8 400.0,196.0 C413.3,200.2 423.3,202.7 440.0,209.0 C456.7,215.3 480.0,225.3 500.0,234.0 C520.0,242.7 540.0,251.3 560.0,261.0 C580.0,270.7 600.0,282.0 620.0,292.0 C640.0,302.0 660.0,311.8 680.0,321.0 C700.0,330.2 720.0,338.8 740.0,347.0 C760.0,355.2 786.7,365.3 800.0,370.0 C813.3,374.7 809.2,372.0 820.0,375.0 C830.8,378.0 850.0,384.7 865.0,388.0 C880.0,391.3 895.0,393.2 910.0,395.0 C925.0,396.8 939.2,397.8 955.0,399.0 C970.8,400.2 996.7,401.5 1005.0,402.0 L1005,427 C996.7,426.3 970.8,424.7 955.0,423.0 C939.2,421.3 925.0,419.3 910.0,417.0 C895.0,414.7 880.0,412.3 865.0,409.0 C850.0,405.7 830.8,400.2 820.0,397.0 C809.2,393.8 813.3,395.2 800.0,390.0 C786.7,384.8 760.0,374.3 740.0,366.0 C720.0,357.7 703.3,351.0 680.0,340.0 C656.7,329.0 622.5,310.3 600.0,300.0 C577.5,289.7 563.3,284.7 545.0,278.0 C526.7,271.3 507.5,266.0 490.0,260.0 C472.5,254.0 455.0,247.2 440.0,242.0 C425.0,236.8 413.3,232.5 400.0,229.0 C386.7,225.5 373.3,223.3 360.0,221.0 C346.7,218.7 333.3,217.0 320.0,215.0 C306.7,213.0 293.3,210.5 280.0,209.0 C266.7,207.5 253.3,207.0 240.0,206.0 C226.7,205.0 213.3,203.8 200.0,203.0 C186.7,202.2 173.3,200.2 160.0,201.0 C146.7,201.8 133.3,205.3 120.0,208.0 C106.7,210.7 93.3,213.8 80.0,217.0 C66.7,220.2 54.2,223.7 40.0,227.0 C25.8,230.3 2.5,235.3 -5.0,237.0 Z" fill="#fbfaf9"/><g filter="url(#texl)"><path d="M-5,128 C4.2,125.7 32.5,119.2 50.0,114.0 C67.5,108.8 83.3,102.7 100.0,97.0 C116.7,91.3 131.7,85.3 150.0,80.0 C168.3,74.7 193.3,69.3 210.0,65.0 C226.7,60.7 236.7,56.8 250.0,54.0 C263.3,51.2 273.3,49.5 290.0,48.0 C306.7,46.5 331.7,45.3 350.0,45.0 C368.3,44.7 383.3,44.8 400.0,46.0 C416.7,47.2 433.3,49.0 450.0,52.0 C466.7,55.0 481.7,58.3 500.0,64.0 C518.3,69.7 544.2,79.7 560.0,86.0 C575.8,92.3 583.3,96.5 595.0,102.0 C606.7,107.5 618.3,113.3 630.0,119.0 C641.7,124.7 653.3,130.3 665.0,136.0 C676.7,141.7 687.5,146.7 700.0,153.0 C712.5,159.3 726.7,167.2 740.0,174.0 C753.3,180.8 766.7,187.7 780.0,194.0 C793.3,200.3 806.7,206.2 820.0,212.0 C833.3,217.8 847.5,224.2 860.0,229.0 C872.5,233.8 883.3,237.3 895.0,241.0 C906.7,244.7 918.3,248.3 930.0,251.0 C941.7,253.7 952.5,255.3 965.0,257.0 C977.5,258.7 998.3,260.3 1005.0,261.0 L1005,402 C996.7,401.5 970.8,400.2 955.0,399.0 C939.2,397.8 925.0,396.8 910.0,395.0 C895.0,393.2 880.0,391.3 865.0,388.0 C850.0,384.7 830.8,378.0 820.0,375.0 C809.2,372.0 813.3,374.7 800.0,370.0 C786.7,365.3 760.0,355.2 740.0,347.0 C720.0,338.8 700.0,330.2 680.0,321.0 C660.0,311.8 640.0,302.0 620.0,292.0 C600.0,282.0 580.0,270.7 560.0,261.0 C540.0,251.3 520.0,242.7 500.0,234.0 C480.0,225.3 456.7,215.3 440.0,209.0 C423.3,202.7 413.3,200.2 400.0,196.0 C386.7,191.8 373.3,187.3 360.0,184.0 C346.7,180.7 333.3,178.0 320.0,176.0 C306.7,174.0 293.3,173.2 280.0,172.0 C266.7,170.8 253.3,169.8 240.0,169.0 C226.7,168.2 213.3,167.3 200.0,167.0 C186.7,166.7 173.3,166.7 160.0,167.0 C146.7,167.3 133.3,168.2 120.0,169.0 C106.7,169.8 93.3,170.8 80.0,172.0 C66.7,173.2 54.2,174.5 40.0,176.0 C25.8,177.5 2.5,180.2 -5.0,181.0 Z" fill="url(#lightg)"/><g clip-path="url(#darkclip)"><path d="M-5,88 C4.2,85.7 32.5,79.2 50.0,74.0 C67.5,68.8 83.3,62.7 100.0,57.0 C116.7,51.3 131.7,45.3 150.0,40.0 C168.3,34.7 193.3,29.3 210.0,25.0 C226.7,20.7 236.7,16.8 250.0,14.0 C263.3,11.2 273.3,9.5 290.0,8.0 C306.7,6.5 331.7,5.3 350.0,5.0 C368.3,4.7 383.3,4.8 400.0,6.0 C416.7,7.2 433.3,9.0 450.0,12.0 C466.7,15.0 481.7,18.3 500.0,24.0 C518.3,29.7 544.2,39.7 560.0,46.0 C575.8,52.3 583.3,56.5 595.0,62.0 C606.7,67.5 618.3,73.3 630.0,79.0 C641.7,84.7 653.3,90.3 665.0,96.0 C676.7,101.7 687.5,106.7 700.0,113.0 C712.5,119.3 726.7,127.2 740.0,134.0 C753.3,140.8 766.7,147.7 780.0,154.0 C793.3,160.3 806.7,166.2 820.0,172.0 C833.3,177.8 847.5,184.2 860.0,189.0 C872.5,193.8 883.3,197.3 895.0,201.0 C906.7,204.7 918.3,208.3 930.0,211.0 C941.7,213.7 952.5,215.3 965.0,217.0 C977.5,218.7 998.3,220.3 1005.0,221.0 L1005,345 C983.3,341.8 909.2,332.2 875.0,326.0 C840.8,319.8 822.5,314.3 800.0,308.0 C777.5,301.7 760.0,295.2 740.0,288.0 C720.0,280.8 703.3,276.3 680.0,265.0 C656.7,253.7 630.0,237.2 600.0,220.0 C570.0,202.8 528.3,176.2 500.0,162.0 C471.7,147.8 455.0,143.0 430.0,135.0 C405.0,127.0 380.0,119.2 350.0,114.0 C320.0,108.8 283.3,105.7 250.0,104.0 C216.7,102.3 181.7,103.3 150.0,104.0 C118.3,104.7 85.8,105.7 60.0,108.0 C34.2,110.3 5.8,116.3 -5.0,118.0 Z" fill="url(#darkg)" filter="url(#blur6)"/></g></g><path d="M-5,128 C4.2,125.7 32.5,119.2 50.0,114.0 C67.5,108.8 83.3,102.7 100.0,97.0 C116.7,91.3 131.7,85.3 150.0,80.0 C168.3,74.7 193.3,69.3 210.0,65.0 C226.7,60.7 236.7,56.8 250.0,54.0 C263.3,51.2 273.3,49.5 290.0,48.0 C306.7,46.5 331.7,45.3 350.0,45.0 C368.3,44.7 383.3,44.8 400.0,46.0 C416.7,47.2 433.3,49.0 450.0,52.0 C466.7,55.0 481.7,58.3 500.0,64.0 C518.3,69.7 544.2,79.7 560.0,86.0 C575.8,92.3 583.3,96.5 595.0,102.0 C606.7,107.5 618.3,113.3 630.0,119.0 C641.7,124.7 653.3,130.3 665.0,136.0 C676.7,141.7 687.5,146.7 700.0,153.0 C712.5,159.3 726.7,167.2 740.0,174.0 C753.3,180.8 766.7,187.7 780.0,194.0 C793.3,200.3 806.7,206.2 820.0,212.0 C833.3,217.8 847.5,224.2 860.0,229.0 C872.5,233.8 883.3,237.3 895.0,241.0 C906.7,244.7 918.3,248.3 930.0,251.0 C941.7,253.7 952.5,255.3 965.0,257.0 C977.5,258.7 998.3,260.3 1005.0,261.0" stroke="#ffffff" stroke-width="1.6" fill="none" opacity="0.9"/><path d="M214,0 L229.0,20 L220.0,15 L221.5,104 L206.5,104 L208.0,15 L199.0,20 Z" fill="url(#upg)"/><path d="M313,0 L328.0,27 L320.0,22 L321.5,104 L304.5,104 L306.0,22 L298.0,27 Z" fill="url(#upg)"/><path d="M434,24 L448.5,51 L441.0,46 L442.5,126 L425.5,126 L427.0,46 L419.5,51 Z" fill="url(#upg)"/><path d="M526,61 L540.0,90 L532.0,85 L533.5,144 L518.5,144 L520.0,85 L512.0,90 Z" fill="url(#upg)"/><path d="M189,168 L228,168 L233,203 L180,203 Z" fill="#93c5ee" opacity="1.0"/><path d="M288,174 L326,174 L330,214 L281,214 Z" fill="#93c5ee" opacity="1.0"/><path d="M400,198 L440,200 L441,240 L390,238 Z" fill="#93c5ee" opacity="1.0"/><path d="M502,240 L540,250 L544,276 L492,272 Z" fill="#93c5ee" opacity="1.0"/><path d="M-5,237 C2.5,235.3 25.8,230.3 40.0,227.0 C54.2,223.7 66.7,220.2 80.0,217.0 C93.3,213.8 106.7,210.7 120.0,208.0 C133.3,205.3 146.7,201.8 160.0,201.0 C173.3,200.2 186.7,202.2 200.0,203.0 C213.3,203.8 226.7,205.0 240.0,206.0 C253.3,207.0 266.7,207.5 280.0,209.0 C293.3,210.5 306.7,213.0 320.0,215.0 C333.3,217.0 346.7,218.7 360.0,221.0 C373.3,223.3 386.7,225.5 400.0,229.0 C413.3,232.5 425.0,236.8 440.0,242.0 C455.0,247.2 472.5,254.0 490.0,260.0 C507.5,266.0 526.7,271.3 545.0,278.0 C563.3,284.7 577.5,289.7 600.0,300.0 C622.5,310.3 656.7,329.0 680.0,340.0 C703.3,351.0 720.0,357.7 740.0,366.0 C760.0,374.3 786.7,384.8 800.0,390.0 C813.3,395.2 809.2,393.8 820.0,397.0 C830.8,400.2 850.0,405.7 865.0,409.0 C880.0,412.3 895.0,414.7 910.0,417.0 C925.0,419.3 939.2,421.3 955.0,423.0 C970.8,424.7 996.7,426.3 1005.0,427.0 L1005,524 C990.8,523.0 947.5,521.0 920.0,518.0 C892.5,515.0 860.0,510.5 840.0,506.0 C820.0,501.5 816.7,496.3 800.0,491.0 C783.3,485.7 756.0,479.5 740.0,474.0 C724.0,468.5 715.8,463.3 704.0,458.0 C692.2,452.7 680.3,447.2 669.0,442.0 C657.7,436.8 647.3,432.3 636.0,427.0 C624.7,421.7 612.2,415.2 601.0,410.0 C589.8,404.8 582.7,402.3 569.0,396.0 C555.3,389.7 533.7,378.5 519.0,372.0 C504.3,365.5 493.2,362.0 481.0,357.0 C468.8,352.0 458.0,346.8 446.0,342.0 C434.0,337.2 421.0,332.0 409.0,328.0 C397.0,324.0 386.0,321.2 374.0,318.0 C362.0,314.8 349.3,311.7 337.0,309.0 C324.7,306.3 314.5,304.8 300.0,302.0 C285.5,299.2 266.7,294.5 250.0,292.0 C233.3,289.5 220.8,288.8 200.0,287.0 C179.2,285.2 159.2,282.3 125.0,281.0 C90.8,279.7 16.7,279.3 -5.0,279.0 Z" fill="url(#tang)" filter="url(#textan)"/><path d="M-5,246 C20.8,246.3 107.5,245.7 150.0,248.0 C192.5,250.3 225.0,256.7 250.0,260.0 C275.0,263.3 279.8,264.0 300.0,268.0 C320.2,272.0 347.3,277.7 371.0,284.0 C394.7,290.3 417.7,297.3 442.0,306.0 C466.3,314.7 495.8,327.7 517.0,336.0 C538.2,344.3 551.5,348.0 569.0,356.0 C586.5,364.0 604.8,375.5 622.0,384.0 C639.2,392.5 653.7,398.8 672.0,407.0 C690.3,415.2 712.3,425.0 732.0,433.0 C751.7,441.0 772.0,448.8 790.0,455.0 C808.0,461.2 818.3,466.2 840.0,470.0 C861.7,473.8 892.5,475.3 920.0,478.0 C947.5,480.7 990.8,484.7 1005.0,486.0 L1005,524 C990.8,523.0 947.5,521.0 920.0,518.0 C892.5,515.0 860.0,510.5 840.0,506.0 C820.0,501.5 816.7,496.3 800.0,491.0 C783.3,485.7 756.0,479.5 740.0,474.0 C724.0,468.5 715.8,463.3 704.0,458.0 C692.2,452.7 680.3,447.2 669.0,442.0 C657.7,436.8 647.3,432.3 636.0,427.0 C624.7,421.7 612.2,415.2 601.0,410.0 C589.8,404.8 582.7,402.3 569.0,396.0 C555.3,389.7 533.7,378.5 519.0,372.0 C504.3,365.5 493.2,362.0 481.0,357.0 C468.8,352.0 458.0,346.8 446.0,342.0 C434.0,337.2 421.0,332.0 409.0,328.0 C397.0,324.0 386.0,321.2 374.0,318.0 C362.0,314.8 349.3,311.7 337.0,309.0 C324.7,306.3 314.5,304.8 300.0,302.0 C285.5,299.2 266.7,294.5 250.0,292.0 C233.3,289.5 220.8,288.8 200.0,287.0 C179.2,285.2 159.2,282.3 125.0,281.0 C90.8,279.7 16.7,279.3 -5.0,279.0 Z" fill="url(#stripg)"/><circle cx="6" cy="251" r="9.5" fill="url(#bead)" opacity="1.00"/>
<circle cx="22" cy="251" r="9.5" fill="url(#bead)" opacity="1.00"/>
<circle cx="41" cy="251" r="9.5" fill="url(#bead)" opacity="1.00"/>
<circle cx="60" cy="251" r="9.5" fill="url(#bead)" opacity="1.00"/>
<circle cx="79" cy="251" r="9.5" fill="url(#bead)" opacity="1.00"/>
<circle cx="97" cy="251" r="9.5" fill="url(#bead)" opacity="1.00"/>
<circle cx="116" cy="251" r="9.5" fill="url(#bead)" opacity="1.00"/>
<circle cx="134" cy="251" r="9.5" fill="url(#bead)" opacity="1.00"/>
<circle cx="153" cy="253" r="9.5" fill="url(#bead)" opacity="1.00"/>
<circle cx="172" cy="254" r="9.5" fill="url(#bead)" opacity="1.00"/>
<circle cx="190" cy="255" r="9.5" fill="url(#bead)" opacity="1.00"/>
<circle cx="210" cy="258" r="9.5" fill="url(#bead)" opacity="1.00"/>
<circle cx="228" cy="261" r="9.5" fill="url(#bead)" opacity="1.00"/>
<circle cx="245" cy="264" r="9.5" fill="url(#bead)" opacity="1.00"/>
<circle cx="262" cy="267" r="9.5" fill="url(#bead)" opacity="1.00"/>
<circle cx="282" cy="271" r="9.5" fill="url(#bead)" opacity="1.00"/>
<circle cx="301" cy="274" r="9.5" fill="url(#bead)" opacity="1.00"/>
<circle cx="316" cy="277" r="9.5" fill="url(#bead)" opacity="1.00"/>
<circle cx="335" cy="281" r="9.5" fill="url(#bead)" opacity="1.00"/>
<circle cx="354" cy="286" r="9.5" fill="url(#bead)" opacity="1.00"/>
<circle cx="371" cy="290" r="9.5" fill="url(#bead)" opacity="1.00"/>
<circle cx="389" cy="294" r="9.5" fill="url(#bead)" opacity="1.00"/>
<circle cx="406" cy="300" r="9.5" fill="url(#bead)" opacity="1.00"/>
<circle cx="425" cy="306" r="9.5" fill="url(#bead)" opacity="1.00"/>
<circle cx="442" cy="312" r="9.5" fill="url(#bead)" opacity="1.00"/>
<circle cx="460" cy="319" r="9.5" fill="url(#bead)" opacity="1.00"/>
<circle cx="479" cy="326" r="9.5" fill="url(#bead)" opacity="1.00"/>
<circle cx="497" cy="334" r="9.5" fill="url(#bead)" opacity="1.00"/>
<circle cx="517" cy="342" r="9.5" fill="url(#bead)" opacity="1.00"/>
<circle cx="539" cy="352" r="9.5" fill="url(#bead)" opacity="1.00"/>
<circle cx="569" cy="366" r="9.5" fill="url(#bead)" opacity="1.00"/>
<circle cx="596" cy="380" r="9.5" fill="url(#bead)" opacity="1.00"/>
<circle cx="622" cy="394" r="9.5" fill="url(#bead)" opacity="1.00"/>
<circle cx="647" cy="405" r="9.5" fill="url(#bead)" opacity="1.00"/>
<circle cx="672" cy="420" r="9.5" fill="url(#bead)" opacity="1.00"/>
<circle cx="702" cy="434" r="9.5" fill="url(#bead)" opacity="1.00"/>
<circle cx="732" cy="445" r="9.5" fill="url(#bead)" opacity="1.00"/>
<circle cx="762" cy="457" r="9.5" fill="url(#bead)" opacity="1.00"/>
<circle cx="795" cy="467" r="9.5" fill="url(#bead)" opacity="1.00"/>
<circle cx="831" cy="475" r="9.5" fill="url(#bead)" opacity="0.94"/>
<circle cx="6" cy="270" r="9.5" fill="url(#bead)" opacity="1.00"/>
<circle cx="22" cy="270" r="9.5" fill="url(#bead)" opacity="1.00"/>
<circle cx="41" cy="270" r="9.5" fill="url(#bead)" opacity="1.00"/>
<circle cx="60" cy="270" r="9.5" fill="url(#bead)" opacity="1.00"/>
<circle cx="79" cy="270" r="9.5" fill="url(#bead)" opacity="1.00"/>
<circle cx="97" cy="270" r="9.5" fill="url(#bead)" opacity="1.00"/>
<circle cx="116" cy="270" r="9.5" fill="url(#bead)" opacity="1.00"/>
<circle cx="134" cy="270" r="9.5" fill="url(#bead)" opacity="1.00"/>
<circle cx="153" cy="271" r="9.5" fill="url(#bead)" opacity="1.00"/>
<circle cx="172" cy="272" r="9.5" fill="url(#bead)" opacity="1.00"/>
<circle cx="190" cy="273" r="9.5" fill="url(#bead)" opacity="1.00"/>
<circle cx="210" cy="277" r="9.5" fill="url(#bead)" opacity="1.00"/>
<circle cx="228" cy="281" r="9.5" fill="url(#bead)" opacity="1.00"/>
<circle cx="246" cy="284" r="9.5" fill="url(#bead)" opacity="1.00"/>
<circle cx="265" cy="287" r="9.5" fill="url(#bead)" opacity="1.00"/>
<circle cx="284" cy="290" r="9.5" fill="url(#bead)" opacity="1.00"/>
<circle cx="302" cy="292" r="9.5" fill="url(#bead)" opacity="1.00"/>
<circle cx="319" cy="296" r="9.5" fill="url(#bead)" opacity="1.00"/>
<circle cx="337" cy="300" r="9.5" fill="url(#bead)" opacity="1.00"/>
<circle cx="356" cy="305" r="9.5" fill="url(#bead)" opacity="1.00"/>
<circle cx="374" cy="310" r="9.5" fill="url(#bead)" opacity="1.00"/>
<circle cx="391" cy="315" r="9.5" fill="url(#bead)" opacity="1.00"/>
<circle cx="409" cy="320" r="9.5" fill="url(#bead)" opacity="1.00"/>
<circle cx="427" cy="326" r="9.5" fill="url(#bead)" opacity="1.00"/>
<circle cx="446" cy="334" r="9.5" fill="url(#bead)" opacity="1.00"/>
<circle cx="464" cy="341" r="9.5" fill="url(#bead)" opacity="1.00"/>
<circle cx="481" cy="350" r="9.5" fill="url(#bead)" opacity="1.00"/>
<circle cx="500" cy="357" r="9.5" fill="url(#bead)" opacity="1.00"/>
<circle cx="519" cy="364" r="9.5" fill="url(#bead)" opacity="1.00"/>
<circle cx="535" cy="374" r="9.5" fill="url(#bead)" opacity="1.00"/>
<circle cx="551" cy="381" r="9.5" fill="url(#bead)" opacity="1.00"/>
<circle cx="569" cy="389" r="9.5" fill="url(#bead)" opacity="1.00"/>
<circle cx="585" cy="399" r="9.5" fill="url(#bead)" opacity="1.00"/>
<circle cx="601" cy="407" r="9.5" fill="url(#bead)" opacity="1.00"/>
<circle cx="620" cy="416" r="9.5" fill="url(#bead)" opacity="1.00"/>
<circle cx="636" cy="424" r="9.5" fill="url(#bead)" opacity="1.00"/>
<circle cx="651" cy="430" r="9.5" fill="url(#bead)" opacity="1.00"/>
<circle cx="669" cy="439" r="9.5" fill="url(#bead)" opacity="1.00"/>
<circle cx="685" cy="446" r="9.5" fill="url(#bead)" opacity="1.00"/>
<circle cx="704" cy="455" r="9.5" fill="url(#bead)" opacity="1.00"/>
<circle cx="721" cy="461" r="9.5" fill="url(#bead)" opacity="1.00"/>
<circle cx="740" cy="466" r="9.5" fill="url(#bead)" opacity="1.00"/>
<circle cx="757" cy="472" r="9.5" fill="url(#bead)" opacity="1.00"/>
<circle cx="774" cy="477" r="9.5" fill="url(#bead)" opacity="1.00"/>
<circle cx="791" cy="484" r="9.5" fill="url(#bead)" opacity="1.00"/>
<circle cx="810" cy="489" r="9.5" fill="url(#bead)" opacity="1.00"/>
<circle cx="830" cy="494" r="9.5" fill="url(#bead)" opacity="0.95"/>
<circle cx="849" cy="499" r="9.5" fill="url(#bead)" opacity="0.85"/>
<circle cx="867" cy="501" r="9.5" fill="url(#bead)" opacity="0.77"/>
<circle cx="886" cy="502" r="9.5" fill="url(#bead)" opacity="0.67"/>
<circle cx="906" cy="506" r="9.5" fill="url(#bead)" opacity="0.57"/>
<circle cx="927" cy="509" r="9.5" fill="url(#bead)" opacity="0.46"/>
<circle cx="950" cy="511" r="9.5" fill="url(#bead)" opacity="0.35"/>
<circle cx="972" cy="512" r="9.5" fill="url(#bead)" opacity="0.30"/><path d="M192,216.6 C194.2,222.1 198.6,228.7 198.6,232 A6.6000000000000005,6.6000000000000005 0 0 1 185.4,232 C185.4,228.7 189.8,222.1 192,216.6 Z" fill="url(#gdrop)"/><path d="M229,216.6 C231.2,222.1 235.6,228.7 235.6,232 A6.6000000000000005,6.6000000000000005 0 0 1 222.4,232 C222.4,228.7 226.8,222.1 229,216.6 Z" fill="url(#gdrop)"/><path d="M268,216.6 C270.2,222.1 274.6,228.7 274.6,232 A6.6000000000000005,6.6000000000000005 0 0 1 261.4,232 C261.4,228.7 265.8,222.1 268,216.6 Z" fill="url(#gdrop)"/><path d="M308,224.6 C310.2,230.1 314.6,236.7 314.6,240 A6.6000000000000005,6.6000000000000005 0 0 1 301.4,240 C301.4,236.7 305.8,230.1 308,224.6 Z" fill="url(#gdrop)"/><path d="M351,236.6 C353.2,242.1 357.6,248.7 357.6,252 A6.6000000000000005,6.6000000000000005 0 0 1 344.4,252 C344.4,248.7 348.8,242.1 351,236.6 Z" fill="url(#gdrop)"/><path d="M390,248.6 C392.2,254.1 396.6,260.7 396.6,264 A6.6000000000000005,6.6000000000000005 0 0 1 383.4,264 C383.4,260.7 387.8,254.1 390,248.6 Z" fill="url(#gdrop)"/><path d="M423,267.6 C425.2,273.1 429.6,279.7 429.6,283 A6.6000000000000005,6.6000000000000005 0 0 1 416.4,283 C416.4,279.7 420.8,273.1 423,267.6 Z" fill="url(#gdrop)"/><path d="M459,280.6 C461.2,286.1 465.6,292.7 465.6,296 A6.6000000000000005,6.6000000000000005 0 0 1 452.4,296 C452.4,292.7 456.8,286.1 459,280.6 Z" fill="url(#gdrop)"/><path d="M204,194.8 C205.6,198.8 208.8,203.6 208.8,206 A4.800000000000001,4.800000000000001 0 0 1 199.2,206 C199.2,203.6 202.4,198.8 204,194.8 Z" fill="url(#gdrop)"/><path d="M251,189.8 C252.6,193.8 255.8,198.6 255.8,201 A4.800000000000001,4.800000000000001 0 0 1 246.2,201 C246.2,198.6 249.4,193.8 251,189.8 Z" fill="url(#gdrop)"/><path d="M300,204.8 C301.6,208.8 304.8,213.6 304.8,216 A4.800000000000001,4.800000000000001 0 0 1 295.2,216 C295.2,213.6 298.4,208.8 300,204.8 Z" fill="url(#gdrop)"/><path d="M366,226.8 C367.6,230.8 370.8,235.6 370.8,238 A4.800000000000001,4.800000000000001 0 0 1 361.2,238 C361.2,235.6 364.4,230.8 366,226.8 Z" fill="url(#gdrop)"/><path d="M414,234.8 C415.6,238.8 418.8,243.6 418.8,246 A4.800000000000001,4.800000000000001 0 0 1 409.2,246 C409.2,243.6 412.4,238.8 414,234.8 Z" fill="url(#gdrop)"/><circle cx="153" cy="229" r="6" fill="none" stroke="#f2c330" stroke-width="3"/><path d="M-5,387 C4.2,383.7 28.3,374.0 50.0,367.0 C71.7,360.0 100.0,352.5 125.0,345.0 C150.0,337.5 179.2,327.5 200.0,322.0 C220.8,316.5 233.3,314.8 250.0,312.0 C266.7,309.2 285.5,305.5 300.0,305.0 C314.5,304.5 324.7,306.8 337.0,309.0 C349.3,311.2 362.0,314.8 374.0,318.0 C386.0,321.2 397.0,324.0 409.0,328.0 C421.0,332.0 434.0,337.2 446.0,342.0 C458.0,346.8 468.8,352.0 481.0,357.0 C493.2,362.0 504.3,365.5 519.0,372.0 C533.7,378.5 555.3,389.7 569.0,396.0 C582.7,402.3 589.8,404.8 601.0,410.0 C612.2,415.2 624.7,421.7 636.0,427.0 C647.3,432.3 657.7,436.8 669.0,442.0 C680.3,447.2 692.2,452.7 704.0,458.0 C715.8,463.3 724.0,468.5 740.0,474.0 C756.0,479.5 783.3,485.7 800.0,491.0 C816.7,496.3 820.0,501.5 840.0,506.0 C860.0,510.5 892.5,515.0 920.0,518.0 C947.5,521.0 990.8,523.0 1005.0,524.0 L1005,608 C996.7,607.5 970.8,606.5 955.0,605.0 C939.2,603.5 925.0,601.7 910.0,599.0 C895.0,596.3 880.0,592.8 865.0,589.0 C850.0,585.2 834.2,581.0 820.0,576.0 C805.8,571.0 796.7,566.5 780.0,559.0 C763.3,551.5 740.0,540.7 720.0,531.0 C700.0,521.3 680.0,510.7 660.0,501.0 C640.0,491.3 620.0,483.2 600.0,473.0 C580.0,462.8 558.3,449.2 540.0,440.0 C521.7,430.8 508.3,425.5 490.0,418.0 C471.7,410.5 449.2,401.5 430.0,395.0 C410.8,388.5 396.7,383.5 375.0,379.0 C353.3,374.5 320.8,370.5 300.0,368.0 C279.2,365.5 266.7,365.0 250.0,364.0 C233.3,363.0 220.8,361.5 200.0,362.0 C179.2,362.5 150.0,364.5 125.0,367.0 C100.0,369.5 71.7,373.8 50.0,377.0 C28.3,380.2 4.2,384.5 -5.0,386.0 Z" fill="#d49e6c" filter="url(#texd)"/><path d="M180,325 L232,325 L225,360 L188,360 Z" fill="url(#trapg)" opacity="1" filter="url(#blur1)"/><path d="M287,334 L342,334 L332,367 L292,367 Z" fill="url(#trapg)" opacity="1" filter="url(#blur1)"/><path d="M405,361 L452,361 L445,390 L410,390 Z" fill="url(#trapg)" opacity="1" filter="url(#blur1)"/><path d="M495,401 L540,401 L535,430 L500,430 Z" fill="url(#trapg)" opacity="1" filter="url(#blur1)"/><path d="M-5,386 C4.2,384.5 28.3,380.2 50.0,377.0 C71.7,373.8 100.0,369.5 125.0,367.0 C150.0,364.5 179.2,362.5 200.0,362.0 C220.8,361.5 233.3,363.0 250.0,364.0 C266.7,365.0 279.2,365.5 300.0,368.0 C320.8,370.5 353.3,374.5 375.0,379.0 C396.7,383.5 410.8,388.5 430.0,395.0 C449.2,401.5 471.7,410.5 490.0,418.0 C508.3,425.5 521.7,430.8 540.0,440.0 C558.3,449.2 580.0,462.8 600.0,473.0 C620.0,483.2 640.0,491.3 660.0,501.0 C680.0,510.7 700.0,521.3 720.0,531.0 C740.0,540.7 763.3,551.5 780.0,559.0 C796.7,566.5 805.8,571.0 820.0,576.0 C834.2,581.0 850.0,585.2 865.0,589.0 C880.0,592.8 895.0,596.3 910.0,599.0 C925.0,601.7 939.2,603.5 955.0,605.0 C970.8,606.5 996.7,607.5 1005.0,608.0 L1005,699 C989.2,698.2 935.8,695.7 910.0,694.0 C884.2,692.3 866.7,690.8 850.0,689.0 C833.3,687.2 826.7,687.2 810.0,683.0 C793.3,678.8 768.3,670.5 750.0,664.0 C731.7,657.5 716.7,650.3 700.0,644.0 C683.3,637.7 666.7,632.8 650.0,626.0 C633.3,619.2 620.8,611.0 600.0,603.0 C579.2,595.0 550.0,586.5 525.0,578.0 C500.0,569.5 475.0,559.8 450.0,552.0 C425.0,544.2 400.0,536.5 375.0,531.0 C350.0,525.5 320.8,521.7 300.0,519.0 C279.2,516.3 266.7,515.8 250.0,515.0 C233.3,514.2 216.7,514.0 200.0,514.0 C183.3,514.0 166.7,514.2 150.0,515.0 C133.3,515.8 116.7,517.2 100.0,519.0 C83.3,520.8 67.5,524.0 50.0,526.0 C32.5,528.0 4.2,530.2 -5.0,531.0 Z" fill="#e6ad81" filter="url(#tex2)"/><clipPath id="pclip"><path d="M-5,386 C4.2,384.5 28.3,380.2 50.0,377.0 C71.7,373.8 100.0,369.5 125.0,367.0 C150.0,364.5 179.2,362.5 200.0,362.0 C220.8,361.5 233.3,363.0 250.0,364.0 C266.7,365.0 279.2,365.5 300.0,368.0 C320.8,370.5 353.3,374.5 375.0,379.0 C396.7,383.5 410.8,388.5 430.0,395.0 C449.2,401.5 471.7,410.5 490.0,418.0 C508.3,425.5 521.7,430.8 540.0,440.0 C558.3,449.2 580.0,462.8 600.0,473.0 C620.0,483.2 640.0,491.3 660.0,501.0 C680.0,510.7 700.0,521.3 720.0,531.0 C740.0,540.7 763.3,551.5 780.0,559.0 C796.7,566.5 805.8,571.0 820.0,576.0 C834.2,581.0 850.0,585.2 865.0,589.0 C880.0,592.8 895.0,596.3 910.0,599.0 C925.0,601.7 939.2,603.5 955.0,605.0 C970.8,606.5 996.7,607.5 1005.0,608.0 L1005,699 C989.2,698.2 935.8,695.7 910.0,694.0 C884.2,692.3 866.7,690.8 850.0,689.0 C833.3,687.2 826.7,687.2 810.0,683.0 C793.3,678.8 768.3,670.5 750.0,664.0 C731.7,657.5 716.7,650.3 700.0,644.0 C683.3,637.7 666.7,632.8 650.0,626.0 C633.3,619.2 620.8,611.0 600.0,603.0 C579.2,595.0 550.0,586.5 525.0,578.0 C500.0,569.5 475.0,559.8 450.0,552.0 C425.0,544.2 400.0,536.5 375.0,531.0 C350.0,525.5 320.8,521.7 300.0,519.0 C279.2,516.3 266.7,515.8 250.0,515.0 C233.3,514.2 216.7,514.0 200.0,514.0 C183.3,514.0 166.7,514.2 150.0,515.0 C133.3,515.8 116.7,517.2 100.0,519.0 C83.3,520.8 67.5,524.0 50.0,526.0 C32.5,528.0 4.2,530.2 -5.0,531.0 Z"/></clipPath><g clip-path="url(#pclip)"><path d="M-5,386 C4.2,384.5 28.3,380.2 50.0,377.0 C71.7,373.8 100.0,369.5 125.0,367.0 C150.0,364.5 179.2,362.5 200.0,362.0 C220.8,361.5 233.3,363.0 250.0,364.0 C266.7,365.0 279.2,365.5 300.0,368.0 C320.8,370.5 353.3,374.5 375.0,379.0 C396.7,383.5 410.8,388.5 430.0,395.0 C449.2,401.5 471.7,410.5 490.0,418.0 C508.3,425.5 521.7,430.8 540.0,440.0 C558.3,449.2 580.0,462.8 600.0,473.0 C620.0,483.2 640.0,491.3 660.0,501.0 C680.0,510.7 700.0,521.3 720.0,531.0 C740.0,540.7 763.3,551.5 780.0,559.0 C796.7,566.5 805.8,571.0 820.0,576.0 C834.2,581.0 850.0,585.2 865.0,589.0 C880.0,592.8 895.0,596.3 910.0,599.0 C925.0,601.7 939.2,603.5 955.0,605.0 C970.8,606.5 996.7,607.5 1005.0,608.0" stroke="#f2d6c6" stroke-width="64" fill="none" opacity="0.8" filter="url(#blur12)"/></g><circle cx="107" cy="430" r="26" fill="url(#spark)" opacity="0.9"/><circle cx="30" cy="457" r="24" fill="url(#spark)" opacity="0.9"/><circle cx="145" cy="490" r="26" fill="url(#spark)" opacity="0.9"/><circle cx="37" cy="505" r="22" fill="url(#spark)" opacity="0.9"/><circle cx="335" cy="455" r="22" fill="url(#spark)" opacity="0.9"/><circle cx="455" cy="452" r="20" fill="url(#spark)" opacity="0.9"/><circle cx="255" cy="490" r="24" fill="url(#spark)" opacity="0.9"/><circle cx="285" cy="410" r="18" fill="url(#spark)" opacity="0.9"/><circle cx="600" cy="565" r="22" fill="url(#spark)" opacity="0.9"/><circle cx="680" cy="535" r="24" fill="url(#spark)" opacity="0.9"/><circle cx="760" cy="575" r="24" fill="url(#spark)" opacity="0.9"/><circle cx="845" cy="600" r="24" fill="url(#spark)" opacity="0.9"/><circle cx="920" cy="665" r="22" fill="url(#spark)" opacity="0.9"/><circle cx="975" cy="615" r="20" fill="url(#spark)" opacity="0.9"/><circle cx="591" cy="504" r="20" fill="url(#spark)" opacity="0.9"/><circle cx="678" cy="531" r="18" fill="url(#spark)" opacity="0.9"/><circle cx="510" cy="540" r="22" fill="url(#spark)" opacity="0.9"/><circle cx="60" cy="400" r="18" fill="url(#spark)" opacity="0.9"/><circle cx="200" cy="400" r="16" fill="url(#spark)" opacity="0.9"/><circle cx="700" cy="600" r="20" fill="url(#spark)" opacity="0.9"/><circle cx="820" cy="650" r="18" fill="url(#spark)" opacity="0.9"/><ellipse cx="263" cy="376" rx="9" ry="6" fill="#9cc070" opacity="0.6" filter="url(#blur3)"/><ellipse cx="352" cy="401" rx="9" ry="6" fill="#9cc070" opacity="0.6" filter="url(#blur3)"/><ellipse cx="463" cy="380" rx="9" ry="6" fill="#9cc070" opacity="0.6" filter="url(#blur3)"/><path d="M200.5,367.3 L213.6,472.4 L221.4,466.4 L210.0,488.0 L193.6,469.9 L202.7,473.8 L189.5,368.7 Z" fill="url(#dng)" /><path d="M305.5,395.4 L298.6,490.4 L306.9,486.0 L292.0,505.0 L280.0,484.1 L287.6,489.6 L294.5,394.6 Z" fill="url(#dng)" /><path d="M425.4,420.9 L409.9,514.1 L418.1,510.4 L402.0,528.0 L392.5,506.1 L399.0,512.3 L414.6,419.1 Z" fill="url(#dng)" /><path d="M508.4,461.1 L492.5,536.5 L500.9,533.1 L484.0,550.0 L475.4,527.7 L481.7,534.2 L497.6,458.9 Z" fill="url(#dng)" /></svg>
<div class="txt">Replenish Leather Fat<br>FromThe Inside Out,Mak-<br>ing The Leather Soft,Deli-<br>cate and Elastic.</div>
<div class="btn" style="left:70px;width:265px"></div>
<div class="btn" style="left:386px;width:265px"></div>
<div class="btn" style="left:702px;width:265px"></div>
<div class="bt" style="left:87px;top:930px;font-size:24.3px;letter-spacing:0.95px">Safety and Health</div>
<div class="bt" style="left:404px;top:935px;font-size:16px;letter-spacing:1.05px">Does Not Damage leather</div>
<div class="bt" style="left:741px;top:930px;font-size:24.3px;letter-spacing:0.65px">Deep Cleaning</div>
</div></body></html>
